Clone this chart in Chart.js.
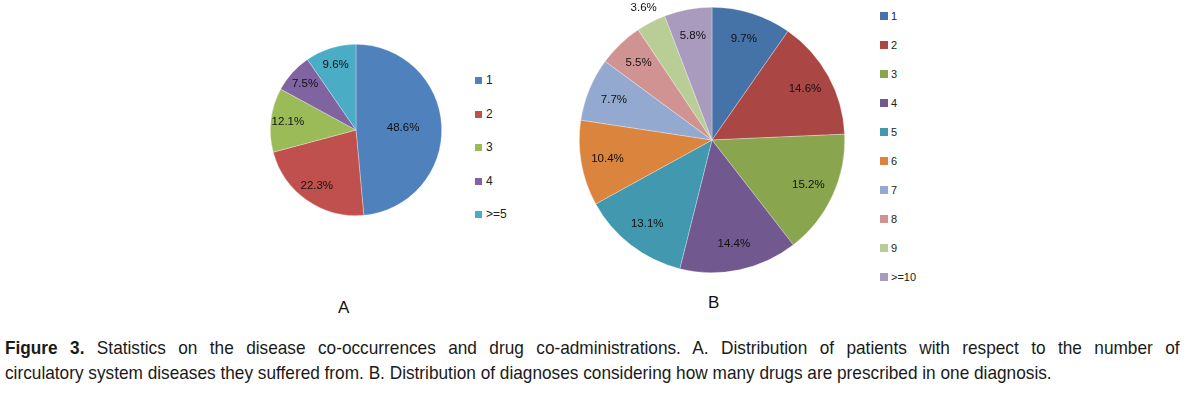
<!DOCTYPE html>
<html>
<head>
<meta charset="utf-8">
<script src="https://cdn.jsdelivr.net/npm/chart.js@4/dist/chart.umd.min.js"></script>
<style>
  html, body { margin: 0; padding: 0; background: #fff; }
  body { width: 1192px; height: 397px; position: relative; overflow: hidden; font-family: "Liberation Sans", Arial, sans-serif; }
  canvas { position: absolute; }
  #chartA { left: 256px; top: 30px; }
  #chartB { left: 562px; top: 0px; }
  .legend { position: absolute; font-size: 12px; color: #222; }
  .legend .item { position: absolute; left: 0; white-space: nowrap; line-height: 14px; height: 14px; }
  .legend .box { display: inline-block; width: 7px; height: 7px; margin-right: 4px; vertical-align: 0px; }
  #legendB { font-size: 11px; }
  #legendB .box { width: 8px; height: 8px; margin-right: 3px; }
  .panel { position: absolute; font-size: 17px; color: #111; }
  .caption { position: absolute; left: 5px; font-size: 19px; color: #1a1a1a; white-space: nowrap;
             transform: scaleX(0.907); transform-origin: 0 0; }
  #cap1 { top: 337px; width: 1295px; text-align: justify; text-align-last: justify; white-space: normal; }
  #cap2 { top: 362px; }
</style>
</head>
<body>
<canvas id="chartA" width="200" height="200"></canvas>
<canvas id="chartB" width="300" height="280"></canvas>
<div class="legend" id="legendA" style="left:475px; top:73px;"></div>
<div class="legend" id="legendB" style="left:880px; top:9px;"></div>
<div class="panel" style="left:338px; top:298px;">A</div>
<div class="panel" style="left:708px; top:293px;">B</div>
<div class="caption" id="cap1"><b>Figure 3.</b> Statistics on the disease co-occurrences and drug co-administrations. A. Distribution of patients with respect to the number of</div>
<div class="caption" id="cap2">circulatory system diseases they suffered from. B. Distribution of diagnoses considering how many drugs are prescribed in one diagnosis.</div>
<script>
// Panel A: number of circulatory system diseases per patient
const labelsA = ["1", "2", "3", "4", ">=5"];
const valuesA = [48.6, 22.3, 12.1, 7.5, 9.6];
const colorsA = ["#4F81BD", "#C0504D", "#9BBB59", "#8064A2", "#4BACC6"];

// Panel B: number of drugs prescribed per diagnosis
const labelsB = ["1", "2", "3", "4", "5", "6", "7", "8", "9", ">=10"];
const valuesB = [9.7, 14.6, 15.2, 14.4, 13.1, 10.4, 7.7, 5.5, 3.6, 5.8];
const colorsB = ["#4572A7", "#AA4643", "#89A54E", "#71588F", "#4198AF", "#DB843D", "#93A9CF", "#D19392", "#B9CD96", "#A99BBD"];

// draws the percentage labels the way Excel's "best fit" roughly does
const pctLabels = {
    id: "pctLabels",
    afterDatasetsDraw(chart) {
        const ctx = chart.ctx;
        const meta = chart.getDatasetMeta(0);
        const vals = chart.data.datasets[0].data;
        ctx.save();
        ctx.font = "11.5px 'Liberation Sans', Arial, sans-serif";
        ctx.fillStyle = "#111";
        ctx.textAlign = "center";
        ctx.textBaseline = "middle";
        meta.data.forEach((arc, i) => {
            const p = arc.getProps(["x", "y", "startAngle", "endAngle", "outerRadius"], true);
            const mid = (p.startAngle + p.endAngle) / 2;
            let f = 0.8;
            if (vals[i] > 40) f = 0.55;
            if (vals[i] < 4) f = 1.12;
            const x = p.x + Math.cos(mid) * p.outerRadius * f;
            const y = p.y + Math.sin(mid) * p.outerRadius * f;
            ctx.fillText(vals[i].toFixed(1) + "%", x, y);
        });
        ctx.restore();
    },
};

function makePie(id, labels, values, colors, padding) {
    return new Chart(document.getElementById(id), {
        type: "pie",
        data: {
            labels: labels,
            datasets: [{
                data: values,
                backgroundColor: colors,
                borderColor: "rgba(255,255,255,0.5)",
                borderWidth: 0.6,
            }],
        },
        options: {
            responsive: false,
            animation: false,
            layout: { padding: padding },
            plugins: {
                legend: { display: false },
                tooltip: { enabled: false },
            },
        },
        plugins: [pctLabels],
    });
}

function makeLegend(id, labels, colors, step) {
    const el = document.getElementById(id);
    labels.forEach((l, i) => {
        const d = document.createElement("div");
        d.className = "item";
        d.style.top = (i * step) + "px";
        d.innerHTML = '<span class="box" style="background:' + colors[i] + '"></span>' + l;
        el.appendChild(d);
    });
}

makePie("chartA", labelsA, valuesA, colorsA, 14);
makePie("chartB", labelsB, valuesB, colorsB, { top: 7, bottom: 7, left: 17, right: 17 });
makeLegend("legendA", labelsA, colorsA, 33.5);
makeLegend("legendB", labelsB, colorsB, 29);
</script>
</body>
</html>
